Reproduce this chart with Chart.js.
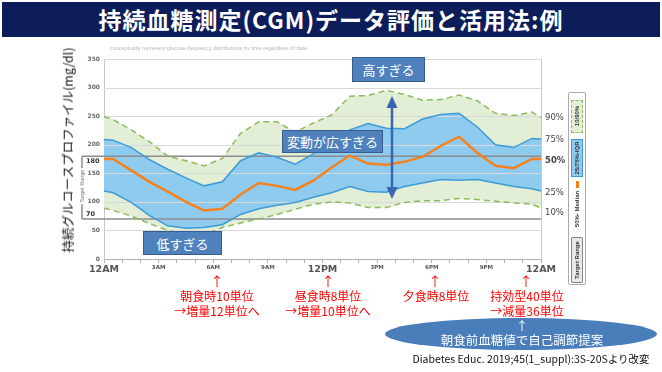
<!DOCTYPE html>
<html>
<head>
<meta charset="utf-8">
<script src="https://cdn.jsdelivr.net/npm/chart.js@4.4.1/dist/chart.umd.min.js"></script>
<style>
  body { margin: 0; width: 662px; height: 372px; overflow: hidden; position: relative; background: #fff;
         font-family: "Noto Sans CJK JP", "Noto Sans", sans-serif; }
  #cgm { position: absolute; left: 0; top: 0; }
  .t { position: absolute; white-space: nowrap; transform: translate(-50%, -50%); line-height: 1; }
  .rot { transform: translate(-50%, -50%) rotate(-90deg); }
  #title { position: absolute; left: 2px; top: 2px; width: 658px; height: 35px; background: #0c1d5a;
           color: #fff; font-weight: bold; font-size: 23px; letter-spacing: 1px; text-align: center; line-height: 35px; }
  .box { position: absolute; background: #4f81bd; border: 1px solid #385d8a; color: #fff; font-size: 13px;
         display: flex; align-items: center; justify-content: center; box-sizing: border-box; }
  .red { color: #ff0000; font-size: 12px; }
  .pct { font-family: "DejaVu Sans", sans-serif; font-size: 8.5px; color: #444; transform: translate(0, -50%); }
  .leg { position: absolute; box-sizing: border-box; }
  .legtxt { font-family: "Liberation Sans", sans-serif; font-size: 6px; font-weight: bold; color: #333; }
</style>
</head>
<body>
<canvas id="cgm" width="662" height="372"></canvas>

<div id="title">持続血糖測定(CGM)データ評価と活用法:例</div>

<div class="t" style="left:110px;top:49px;transform:translate(0,-50%);font-family:'Liberation Sans';font-size:5.5px;color:#b5b5b5;">conceptually represent glucose frequency distributions by time regardless of date.</div>

<div class="t rot" style="left:68px;top:150px;font-size:12.5px;color:#111;">持続グルコースプロファイル(mg/dl)</div>

<!-- percentile labels on the right -->
<div class="t pct" style="left:545px;top:117px;">90%</div>
<div class="t pct" style="left:545px;top:139px;">75%</div>
<div class="t pct" style="left:545px;top:160px;font-weight:bold;">50%</div>
<div class="t pct" style="left:545px;top:192px;">25%</div>
<div class="t pct" style="left:545px;top:212px;">10%</div>

<!-- legend strip -->
<div class="leg" style="left:568px;top:92px;width:18px;height:193px;border:1.5px solid #aaa;border-radius:2px;background:#fff;"></div>
<div class="leg" style="left:571px;top:100px;width:12px;height:33px;background:#e2eed6;border:1px dashed #8dbb5c;"></div>
<div class="t rot legtxt" style="left:577px;top:116px;">10/90%</div>
<div class="leg" style="left:571px;top:139px;width:12px;height:38px;background:#8ecbee;border:1px solid #3d9bd8;"></div>
<div class="t rot legtxt" style="left:577px;top:158px;">25/75%-IQR</div>
<div class="leg" style="left:576px;top:181px;width:3px;height:7px;background:#f5821f;"></div>
<div class="t rot legtxt" style="left:577px;top:209px;">50%- Median</div>
<div class="leg" style="left:571px;top:237px;width:12px;height:46px;background:#e8e8e8;border:1px solid #888;border-radius:1px;"></div>
<div class="t rot legtxt" style="left:577px;top:260px;">Target Range</div>

<!-- annotation boxes -->
<div class="box" style="left:352px;top:57px;width:73px;height:25px;">高すぎる</div>
<div class="box" style="left:282px;top:130px;width:101px;height:23px;">変動が広すぎる</div>
<div class="box" style="left:143px;top:231px;width:79px;height:24px;">低すぎる</div>

<svg style="position:absolute;left:0;top:0;" width="662" height="372">
  <line x1="392" y1="106" x2="392" y2="189" stroke="#3b64b4" stroke-width="2.5"/>
  <polygon points="392,96 386.5,108 397.5,108" fill="#3b64b4"/>
  <polygon points="392,199 386.5,187 397.5,187" fill="#3b64b4"/>
  <ellipse cx="521" cy="334" rx="136" ry="16" fill="#4a7ebb"/>
</svg>

<!-- insulin notes -->
<div class="t red" style="left:217px;top:280px;font-size:13px;">↑</div>
<div class="t red" style="left:217px;top:296px;">朝食時10単位</div>
<div class="t red" style="left:217px;top:311px;">→増量12単位へ</div>
<div class="t red" style="left:328px;top:280px;font-size:13px;">↑</div>
<div class="t red" style="left:328px;top:296px;">昼食時8単位</div>
<div class="t red" style="left:328px;top:311px;">→増量10単位へ</div>
<div class="t red" style="left:435px;top:280px;font-size:13px;">↑</div>
<div class="t red" style="left:436px;top:296px;">夕食時8単位</div>
<div class="t red" style="left:526px;top:280px;font-size:13px;">↑</div>
<div class="t red" style="left:527px;top:296px;">持効型40単位</div>
<div class="t red" style="left:527px;top:311px;">→減量36単位</div>

<div class="t" style="left:522px;top:326px;color:#fff;font-size:12px;">↑</div>
<div class="t" style="left:522px;top:340px;color:#fff;font-size:12.5px;">朝食前血糖値で自己調節提案</div>
<div class="t" style="left:531px;top:359px;color:#111;font-size:10.5px;">Diabetes Educ. 2019;45(1_suppl):3S-20Sより改変</div>

<script>
// time of day in hours (0 = 12AM)
const hours = [0, 0.5, 1.5, 2.5, 3.5, 4.5, 5.5, 6.5, 7.5, 8.5, 9.5, 10.5, 11.5, 12.5,
               13.5, 14.5, 15.5, 16.5, 17.5, 18.5, 19.5, 20.5, 21.5, 22.5, 23.5, 24];

// glucose percentiles (mg/dl)
const p90 = [249, 244, 226, 205, 180, 172, 163, 176, 220, 240, 240, 222, 238, 252,
             285, 286, 295, 288, 278, 279, 287, 277, 255, 251, 257, 248];
const p75 = [209, 208, 195, 174, 157, 142, 128, 135, 172, 186, 178, 166, 184, 209,
             226, 237, 229, 228, 245, 253, 255, 231, 200, 195, 211, 210];
const p50 = [175, 175, 155, 135, 118, 100, 85, 88, 113, 133, 128, 121, 137, 160,
             181, 167, 165, 170, 179, 198, 214, 186, 163, 159, 175, 175];
const p25 = [119, 116, 99, 76, 58, 54, 55, 60, 78, 88, 94, 99, 108, 116,
             127, 118, 117, 127, 133, 139, 138, 139, 133, 127, 123, 119];
const p10 = [89, 85, 75, 62, 50, 43, 43, 55, 63, 70, 78, 87, 96, 100,
             98, 90, 90, 99, 102, 102, 106, 104, 101, 98, 96, 89];

const targetRange = [70, 180];
const xTickLabels = ['12AM', '3AM', '6AM', '9AM', '12PM', '3PM', '6PM', '9PM', '12AM'];

const toXY = arr => arr.map((v, i) => ({ x: hours[i], y: v }));

// grid + target range drawn after the fills but under the lines
const overlay = {
    id: 'overlay',
    beforeDatasetsDraw(chart) {
        const { ctx, chartArea: { left, right, top, bottom }, scales: { y } } = chart;
        ctx.save();
        y.ticks.forEach(t => {
            if (t.value === 0) return;
            const py = Math.round(y.getPixelForValue(t.value)) + 0.5;
            ctx.strokeStyle = '#d9d9d9';
            ctx.lineWidth = 1;
            ctx.beginPath(); ctx.moveTo(left, py); ctx.lineTo(right, py); ctx.stroke();
        });
        // right edge
        ctx.strokeStyle = '#c8c8c8';
        ctx.beginPath(); ctx.moveTo(right + 0.5, top); ctx.lineTo(right + 0.5, bottom); ctx.stroke();

        const bx = left - 22;
        const yHi = y.getPixelForValue(targetRange[1]);
        const yLo = y.getPixelForValue(targetRange[0]);
        ctx.strokeStyle = '#8c8c8c';
        ctx.lineWidth = 1.5;
        [yHi, yLo].forEach(py => {
            ctx.beginPath(); ctx.moveTo(bx, py); ctx.lineTo(right, py); ctx.stroke();
        });
        ctx.beginPath(); ctx.moveTo(bx, yHi); ctx.lineTo(bx, yLo); ctx.stroke();

        // bracket text
        ctx.fillStyle = '#fff';
        ctx.fillRect(bx - 3, yHi + 12, 6, 36);
        ctx.save();
        ctx.translate(bx, yHi + 30);
        ctx.rotate(-Math.PI / 2);
        ctx.fillStyle = '#777';
        ctx.font = '5.5px "Liberation Sans"';
        ctx.textAlign = 'center';
        ctx.textBaseline = 'middle';
        ctx.fillText('Target Range', 0, 0);
        ctx.restore();

        ctx.fillStyle = '#333';
        ctx.font = 'bold 6.5px "DejaVu Sans"';
        ctx.textAlign = 'left';
        ctx.textBaseline = 'top';
        ctx.fillText(String(targetRange[1]), bx + 4, yHi + 2);
        ctx.textBaseline = 'bottom';
        ctx.fillText(String(targetRange[0]), bx + 4, yLo - 1);
        ctx.restore();
    }
};

const line = (data, color, width, extra) => Object.assign({
    data: toXY(data),
    borderColor: color,
    borderWidth: width,
    pointRadius: 0,
    tension: 0,
    fill: false
}, extra);

new Chart(document.getElementById('cgm'), {
    type: 'line',
    data: {
        datasets: [
            line(p50, '#f5821f', 2.5),
            line(p75, '#3d9bd8', 1.5, { fill: '+1', backgroundColor: '#8ecbee' }),
            line(p25, '#3d9bd8', 1.5),
            line(p90, '#8dbb5c', 1.5, { borderDash: [6, 4], fill: '+1', backgroundColor: '#e2eed6' }),
            line(p10, '#8dbb5c', 1.5, { borderDash: [6, 4] })
        ]
    },
    options: {
        responsive: false,
        animation: false,
        devicePixelRatio: 1,
        layout: { padding: { left: 0, right: 121, top: 59, bottom: 93 } },
        plugins: {
            legend: { display: false },
            tooltip: { enabled: false },
            filler: { drawTime: 'beforeDatasetsDraw' }
        },
        scales: {
            x: {
                type: 'linear',
                min: 0,
                max: 24,
                afterFit: s => { s.height = 20; },
                border: { color: '#b0b0b0' },
                grid: { drawOnChartArea: false, drawTicks: true, tickLength: 4, color: '#b0b0b0' },
                ticks: {
                    stepSize: 1,
                    autoSkip: false,
                    maxRotation: 0,
                    padding: 1,
                    color: '#555',
                    font: ctx => (ctx.tick && ctx.tick.value % 12 === 0)
                        ? { family: 'DejaVu Sans', size: 9.5, weight: 'bold' }
                        : { family: 'DejaVu Sans', size: 5.5, weight: 'bold' },
                    callback: v => (v % 3 === 0 ? xTickLabels[v / 3] : '')
                }
            },
            y: {
                min: 0,
                max: 350,
                afterFit: s => { s.width = 104; },
                border: { color: '#c8c8c8' },
                grid: { display: false, drawTicks: false },
                ticks: {
                    stepSize: 50,
                    padding: 4,
                    color: '#666',
                    font: { family: 'DejaVu Sans', size: 6, weight: 'bold' }
                }
            }
        }
    },
    plugins: [overlay]
});
</script>
</body>
</html>
